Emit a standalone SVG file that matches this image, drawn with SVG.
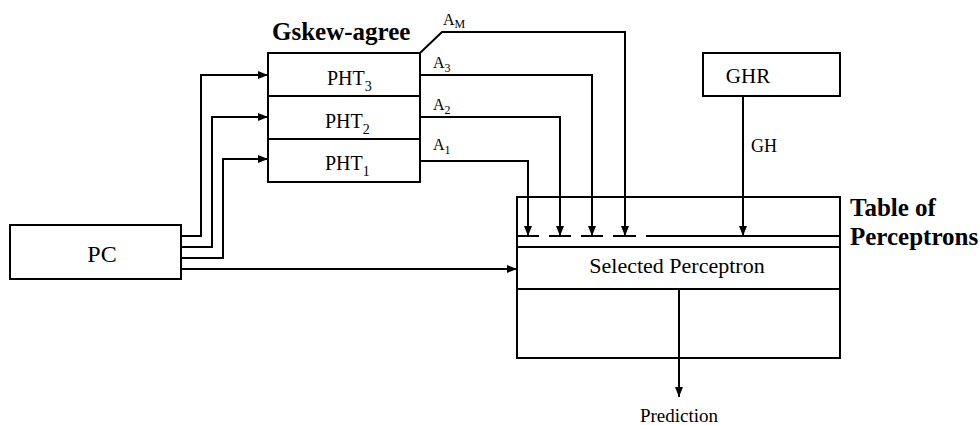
<svg xmlns="http://www.w3.org/2000/svg" width="980" height="425" viewBox="0 0 980 425">
<style>
.b{fill:#fff;stroke:#000;stroke-width:2}
.l{fill:none;stroke:#000;stroke-width:2}
.t{font-family:"Liberation Serif","Times New Roman",serif;fill:#000}
.bt{font-family:"Liberation Serif","Times New Roman",serif;font-weight:bold;fill:#000;font-size:25px}
</style>
<defs>
<marker id="ah" markerWidth="10" markerHeight="8" refX="10" refY="4" orient="auto" markerUnits="userSpaceOnUse">
<path d="M0,0 L10,4 L0,8 Z" fill="#000"/>
</marker>
</defs>
<rect width="980" height="425" fill="#fff"/>
<g id="pht">
<rect class="b" x="268" y="53" width="152" height="129"/>
<line class="l" x1="268" y1="96" x2="420" y2="96"/>
<line class="l" x1="268" y1="139" x2="420" y2="139"/>
<text class="t" x="327" y="85" font-size="20">PHT<tspan font-size="14" dy="6">3</tspan></text>
<text class="t" x="325" y="128" font-size="20">PHT<tspan font-size="14" dy="6">2</tspan></text>
<text class="t" x="325" y="170" font-size="20">PHT<tspan font-size="14" dy="6">1</tspan></text>
<text class="bt" x="272" y="40">Gskew-agree</text>
</g>
<g id="pc">
<rect class="b" x="10" y="225" width="171" height="54"/>
<text class="t" x="102" y="262" font-size="24" text-anchor="middle">PC</text>
</g>
<g id="ghr">
<rect class="b" x="703" y="53" width="137" height="43"/>
<text class="t" x="748" y="83" font-size="21" text-anchor="middle">GHR</text>
</g>
<g id="table">
<rect class="b" x="517" y="197" width="323" height="161"/>
<line class="l" x1="517" y1="236" x2="539" y2="236"/>
<line class="l" x1="549" y1="236" x2="571" y2="236"/>
<line class="l" x1="581" y1="236" x2="603" y2="236"/>
<line class="l" x1="613" y1="236" x2="636" y2="236"/>
<line class="l" x1="646" y1="236" x2="840" y2="236"/>
<line class="l" x1="517" y1="247" x2="840" y2="247"/>
<line class="l" x1="517" y1="289" x2="840" y2="289"/>
<text class="t" x="677" y="273" font-size="22" text-anchor="middle">Selected Perceptron</text>
<text class="bt" x="850" y="216">Table of</text>
<text class="bt" x="850" y="245">Perceptrons</text>
</g>
<g id="connectors">
<polyline class="l" points="181,236 201,236 201,75 268,75" marker-end="url(#ah)"/>
<polyline class="l" points="181,247 212,247 212,117 268,117" marker-end="url(#ah)"/>
<polyline class="l" points="181,258 223,258 223,159 268,159" marker-end="url(#ah)"/>
<polyline class="l" points="181,269 517,269" marker-end="url(#ah)"/>
<polyline class="l" points="420,53 442,32 625,32 625,236" marker-end="url(#ah)"/>
<polyline class="l" points="420,75 592,75 592,236" marker-end="url(#ah)"/>
<polyline class="l" points="420,117 560,117 560,236" marker-end="url(#ah)"/>
<polyline class="l" points="420,161 528,161 528,236" marker-end="url(#ah)"/>
<polyline class="l" points="743,96 743,236" marker-end="url(#ah)"/>
<polyline class="l" points="679,289 679,397" marker-end="url(#ah)"/>
<text class="t" x="443" y="25" font-size="16">A<tspan font-size="12" dy="3">M</tspan></text>
<text class="t" x="433" y="68" font-size="16">A<tspan font-size="12" dy="4">3</tspan></text>
<text class="t" x="433" y="110" font-size="16">A<tspan font-size="12" dy="4">2</tspan></text>
<text class="t" x="433" y="150" font-size="16">A<tspan font-size="12" dy="4">1</tspan></text>
<text class="t" x="751" y="152" font-size="18">GH</text>
<text class="t" x="679" y="422" font-size="19" text-anchor="middle">Prediction</text>
</g>
</svg>
